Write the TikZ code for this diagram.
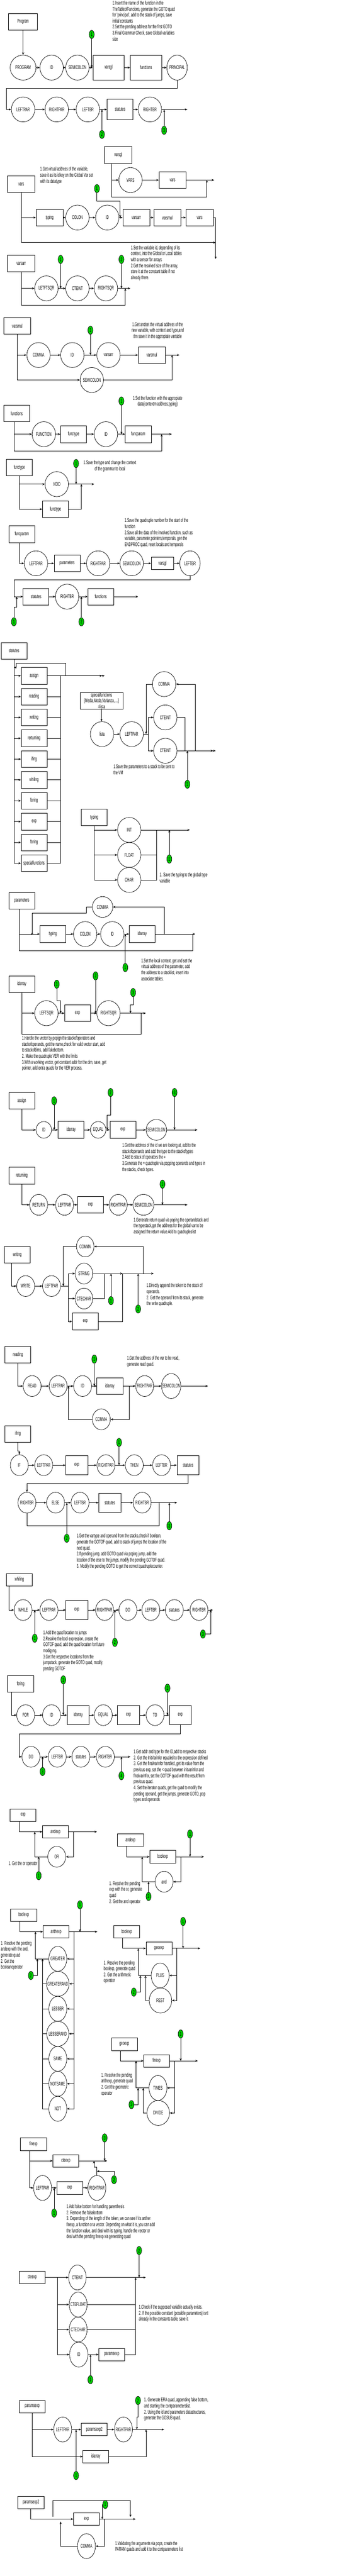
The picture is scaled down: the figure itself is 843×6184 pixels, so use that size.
\documentclass[tikz,border=0pt]{standalone}
\usepackage{fontspec}
\setmainfont{Liberation Sans}[FakeStretch=0.55]
\usetikzlibrary{arrows.meta, shapes.geometric, calc}
\definecolor{actgreen}{RGB}{0,204,0}

\begin{document}
\begin{tikzpicture}[
   x=1pt, y=-1pt,
   line width=0.9pt,
   >={Stealth[length=6pt,width=5pt]},
   font=\fontsize{13}{14.4}\selectfont,
   term/.style={draw, ellipse, minimum width=56pt, minimum height=60pt, inner xsep=-15pt, inner ysep=0pt},  % terminals
   sterm/.style={term, minimum width=43pt, minimum height=50pt},
   rule/.style={draw, rectangle, minimum width=62pt, minimum height=40pt, inner sep=0pt},            % non terminals
   srule/.style={rule, minimum height=30pt},
   wrule/.style={rule, minimum width=52.7pt, minimum height=45.3pt},
   act/.style={draw, ellipse, fill=actgreen, minimum width=12pt, minimum height=20pt, inner sep=0pt}, % semantic actions
   note/.style={anchor=north west, align=left, inner sep=0pt},
   cnote/.style={anchor=north, align=center, inner sep=0pt},
   dbl/.style={-{Stealth[length=6pt,width=5pt]Stealth[length=6pt,width=5pt]}}
]
\path[use as bounding box, fill=white] (0,0) rectangle (843,6184);

% ================= Program
\node[rule, minimum width=69pt] (prg_box) at (55.3,52.3) {Program};
\node[term, minimum width=62pt] (prg_program) at (55.3,162.3) {PROGRAM};
\node[term] (prg_id) at (123.7,162.3) {ID};
\node[term] (prg_semi) at (185.5,162.3) {SEMICOLON};
\node[rule, minimum width=75pt, minimum height=60pt] (prg_varsgl) at (260,162.3) {varsgl};
\node[rule, minimum width=75pt, minimum height=60pt] (prg_functions) at (349.8,162.3) {functions};
\node[term, minimum width=49pt] (prg_principal) at (424.3,162.3) {PRINCIPAL};
\node[term] (prg_leftpar) at (55.3,262.7) {LEFTPAR};
\node[term] (prg_rightpar) at (136,262.7) {RIGHTPAR};
\node[term] (prg_leftbr) at (210.5,262.7) {LEFTBR};
\node[rule, minimum height=50pt] (prg_statutes) at (287.8,262.7) {statutes};
\node[term] (prg_rightbr) at (359.2,262.7) {RIGHTBR};
\coordinate (prg_turn) at (15.3,212);
\coordinate (prg_end) at (449,262.7);
\node[act] (prg_a1) at (219.7,82.7) {1};
\node[act] (prg_a2) at (244.3,322.7) {2};
\node[act] (prg_a3) at (393.3,312.7) {3};

\draw[->] (prg_box) -- (prg_program);
\foreach \a/\b in {program/id, id/semi, semi/varsgl, varsgl/functions, functions/principal,
                   leftpar/rightpar, rightpar/leftbr, leftbr/statutes, statutes/rightbr}
   \draw[->] (prg_\a) -- (prg_\b);
\draw[->] (prg_principal.south) |- (prg_turn) |- (prg_leftpar);
\draw[->] (prg_rightbr) -- (prg_end);
\draw[->] (prg_a1) -- (prg_a1 |- prg_semi);
\draw[->] (prg_a2) -- (prg_a2 |- prg_leftbr);
\draw[->] (prg_a3) -- (prg_a3 |- prg_rightbr);

\node[note] (prg_note) at (269.3,1.7) {1.Insert the name of the function in the\\
TheTableofFuncions, generate the GOTO quad\\
for 'principal', add to the stack of jumps, save\\
initial constants\\
2.Set the pending address for the first GOTO\\
3.Final Grammar Check, save Global variables\\
size};

% ================= varsgl
\node[rule, minimum width=65pt] (vg_box) at (283.3,372.3) {varsgl};
\node[term] (vg_vars_t) at (312.7,432.3) {VARS};
\node[rule, minimum width=65pt] (vg_vars) at (413.5,432.3) {vars};
\coordinate (vg_split) at (267.3,432.3);
\coordinate (vg_low) at (267.3,472.3);
\coordinate (vg_join) at (495.7,432.3);
\coordinate (vg_end) at (513.3,432.3);
\draw[->] (vg_box.south -| vg_split) -- (vg_low) -| (vg_join);
\draw[->] (vg_split) -- (vg_vars_t);
\draw[->] (vg_vars_t) -- (vg_vars);
\draw[->] (vg_vars) -- (vg_end);

% ================= vars
\node[rule, minimum width=65pt] (vr_box) at (50.8,442.3) {vars};
\node[rule, minimum width=65pt] (vr_typing) at (119,522.3) {typing};
\node[term] (vr_colon) at (185.5,522.3) {COLON};
\node[term] (vr_id) at (257,522.3) {ID};
\node[rule, minimum width=65pt] (vr_varsarr) at (326.7,522.3) {varsarr};
\node[rule, minimum width=65pt] (vr_varsmul) at (401,522.3) {varsmul};
\node[rule, minimum width=65pt] (vr_vars) at (478.3,522.3) {vars};
\coordinate (vr_low) at (50.8,582.3);
\coordinate (vr_side) at (516.7,582.3);
\coordinate (vr_end) at (516.7,621.7);
\coordinate (vr_bend) at (288,482.3);
\node[act] (vr_a1) at (232.3,452.7) {1};
\draw (vr_box.south) -- (vr_low);
\draw[->] (vr_box.south |- vr_typing) -- (vr_typing);
\foreach \a/\b in {typing/colon, colon/id, id/varsarr, varsarr/varsmul, varsmul/vars}
   \draw[->] (vr_\a) -- (vr_\b);
\draw[->] (vr_vars) -| (vr_end);
\draw[->] (vr_low) -- (vr_side);
\draw[->] (vr_a1) |- (vr_bend) -- (vr_bend |- vr_id);
\node[note] (vr_note) at (96,400.7) {1.Get virtual address of the variable,\\
save it as its idkey on the Global Var set\\
with its datatype};

% ================= varsarr
\node[rule, minimum width=65pt] (va_box) at (50.8,632.3) {varsarr};
\node[term] (va_leftsqr) at (111.2,692.3) {LETFTSQR};
\node[term] (va_cteint) at (185.5,692.3) {CTEINT};
\node[term] (va_rightsqr) at (253.8,692.3) {RIGHTSQR};
\coordinate (va_low) at (50.8,732.3);
\coordinate (va_join) at (300.3,692.3);
\coordinate (va_end) at (312.3,692.3);
\node[act] (va_a1) at (145.3,622.7) {1};
\node[act] (va_a2) at (291,622.7) {2};
\draw[->] (va_box.south) -- (va_low) -| (va_join);
\draw[->] (va_box.south |- va_leftsqr) -- (va_leftsqr);
\draw[->] (va_leftsqr) -- (va_cteint);
\draw[->] (va_cteint) -- (va_rightsqr);
\draw[->] (va_rightsqr) -- (va_end);
\draw[->] (va_a1) -- (va_a1 |- va_leftsqr);
\draw[->] (va_a2) -- (va_a2 |- va_rightsqr);
\node[note] (va_note) at (313.3,589) {1.Set the variable id, depending of its\\
context, into the Global or Local tables\\
with a sensor for arrays\\
2.Get the resolved size of  the array,\\
store it at the constant table if not\\
already there.};

% ================= varsmul
\node[rule, minimum width=65pt] (vm_box) at (41.5,782.3) {varsmul};
\node[term] (vm_comma) at (92.3,852.3) {COMMA};
\node[term] (vm_id) at (173.3,852.3) {ID};
\node[term] (vm_varsarr) at (260,852.3) {varsarr};
\node[rule, minimum width=65pt] (vm_varsmul) at (363.8,852.3) {varsmul};
\node[term] (vm_semi) at (220,912.3) {SEMICOLON};
\coordinate (vm_low) at (41.5,912.3);
\coordinate (vm_join) at (412.3,852.3);
\coordinate (vm_end) at (430,852.3);
\node[act] (vm_a1) at (216.7,792.7) {1};
\draw (vm_box.south) -- (vm_low);
\draw[->] (vm_box.south |- vm_comma) -- (vm_comma);
\foreach \a/\b in {comma/id, id/varsarr, varsarr/varsmul}
   \draw[->] (vm_\a) -- (vm_\b);
\draw[->] (vm_varsmul) -- (vm_end);
\draw[->] (vm_low) -- (vm_semi);
\draw[->] (vm_semi) -| (vm_join);
\draw[->] (vm_a1) -- (vm_a1 |- vm_id);
\node[cnote] (vm_note) at (377.7,773.3) {1.Get andset the virtual address of the\\
new variable, with context and type,and\\
thn save it in the appropiate vartable};

% ================= functions
\node[rule] (fn_box) at (40,992.3) {functions};
\node[term] (fn_function) at (105,1042.3) {FUNCTION};
\node[rule] (fn_functype) at (176.3,1042.3) {functype};
\node[term] (fn_id) at (253.8,1042.3) {ID};
\node[rule] (fn_funcparam) at (331.3,1042.3) {funcparam};
\coordinate (fn_split) at (33.3,1042.3);
\coordinate (fn_low) at (33.3,1082.3);
\coordinate (fn_join) at (387.3,1042.3);
\coordinate (fn_end) at (411.7,1042.3);
\node[act] (fn_a1) at (291,962.7) {1};
\draw[->] (fn_box.south -| fn_split) -- (fn_low) -| (fn_join);
\draw[->] (fn_split) -- (fn_function);
\foreach \a/\b in {function/functype, functype/id, id/funcparam}
   \draw[->] (fn_\a) -- (fn_\b);
\draw[->] (fn_funcparam) -- (fn_end);
\draw[->] (fn_a1) -- (fn_a1 |- fn_id);
\node[cnote] (fn_note) at (377.7,950) {1.Set the function with the appropiate\\
data(contextm address,typing)};

% ================= functype
\node[rule] (ft_box) at (46.3,1122.3) {functype};
\node[term] (ft_void) at (136,1162.3) {VOID};
\node[rule] (ft_functype) at (133,1222.3) {functype};
\coordinate (ft_join) at (195,1162.3);
\coordinate (ft_end) at (225.7,1162.3);
\node[act] (ft_a1) at (182.3,1112.7) {1};
\draw[->] (ft_box.south) |- (ft_functype);
\draw[->] (ft_box.south |- ft_void) -- (ft_void);
\draw[->] (ft_void) -- (ft_end);
\draw[->] (ft_functype) -| (ft_join);
\draw[->] (ft_a1) -- (ft_a1 |- ft_void);
\node[cnote] (ft_note) at (263.3,1105) {1.Save the type and change the context\\
of the grammar to local};

% ================= funcparam
\node[rule] (fp_box) at (52.2,1282.3) {funcparam};
\node[term] (fp_leftpar) at (86.3,1352.3) {LEFTPAR};
\node[rule] (fp_parameters) at (160.8,1352.3) {parameters};
\node[term] (fp_rightpar) at (235.2,1352.3) {RIGHTPAR};
\node[term] (fp_semi) at (315.5,1352.3) {SEMICOLON};
\node[rule, minimum width=54pt, minimum height=30pt] (fp_varsgl) at (389.5,1352.3) {varsgl};
\node[term, minimum width=49pt] (fp_leftbr) at (455.3,1352.3) {LEFTBR};
\node[rule] (fp_statutes) at (86.3,1432.3) {statutes};
\node[term] (fp_rightbr) at (160.8,1432.3) {RIGHTBR};
\node[rule] (fp_functions) at (241.3,1432.3) {functions};
\coordinate (fp_split) at (46,1352.3);
\coordinate (fp_turn) at (33.3,1392.3);
\coordinate (fp_bend) at (40,1457.7);
\coordinate (fp_end) at (331,1432.3);
\node[act] (fp_a1) at (33.3,1492.7) {1};
\node[act] (fp_a2) at (195,1492.7) {2};
\draw[->] (fp_box.south -| fp_split) -- (fp_split) -- (fp_leftpar);
\foreach \a/\b in {leftpar/parameters, parameters/rightpar, rightpar/semi, semi/varsgl, varsgl/leftbr,
                   statutes/rightbr, rightbr/functions}
   \draw[->] (fp_\a) -- (fp_\b);
\draw[->] (fp_leftbr.south) |- (fp_turn) |- (fp_statutes);
\draw[->] (fp_functions) -- (fp_end);
\draw[->] (fp_a1) |- (fp_bend) -- (fp_bend |- fp_statutes);
\draw[->] (fp_a2) -- (fp_a2 |- fp_rightbr);
\node[note] (fp_note) at (298.3,1244) {1.Save the quadruple number for the start of the\\
function\\
2.Save all the data of  the involved function, such as\\
variable, parameter,pointers,temporals, gen the\\
ENDPROC quad, reset locals and temporals};

% ================= statutes
\node[rule] (st_box) at (33.5,1562.3) {statutes};
\foreach \stname [count=\i] in {assign, reading, writing, rerturning, ifing, whiling, foring, exp, foring, specialfunctions}
   \node[rule] (st_item\i) at (81.7,1572.3+50*\i) {\stname};
\coordinate (st_rr) at (145.3,1622.3);
\coordinate (st_back) at (157.3,1592.3);
\coordinate (st_back_l) at (39.3,1592.3);
\coordinate (st_back_in) at (39.3,1602.3);
\coordinate (st_end) at (250.7,1622.3);
\draw (st_box.south) -- (st_box.south |- st_item10);
\foreach \i in {1,...,10} {
   \draw[->] (st_box.south |- st_item\i) -- (st_item\i);
   \draw (st_item\i) -- (st_rr |- st_item\i);
}
\draw (st_rr) -- (st_rr |- st_item10);
\draw[->] (st_item1 -| st_back) -- (st_back) -- (st_back_l) -- (st_back_in) -- (st_back_in -| st_box);
\draw[dbl] (st_item1) -- (st_end);

% ================= specialfunctions
\node[rule, minimum width=102pt, align=center] (sf_box) at (243.2,1682.3) {specialfunctions\\\{Media,Moda,Varianza,....\}\\=lista};
\node[term] (sf_lista) at (244.5,1762.3) {lista};
\node[term] (sf_leftpar) at (315.5,1762.3) {LEFTPAR};
\node[term] (sf_comma) at (393.3,1642.3) {COMMA};
\node[term] (sf_cte1) at (396.2,1722.3) {CTEINT};
\node[term] (sf_cte2) at (396.2,1802.3) {CTEINT};
\coordinate (sf_fork) at (356,1762.3);
\coordinate (sf_back) at (350,1762.3);
\coordinate (sf_join) at (442.7,1802.3);
\coordinate (sf_loop) at (467.7,1802.3);
\coordinate (sf_end) at (516.7,1802.3);
\node[act] (sf_a1) at (449,1882.7) {1};
\draw[->] (sf_box.south) -- (sf_box.south |- sf_lista.north);
\draw[->] (sf_lista) -- (sf_leftpar);
\draw (sf_leftpar) -- (sf_fork);
\draw[->] (sf_fork) |- (sf_cte1);
\draw[->] (sf_fork) |- (sf_cte2);
\draw (sf_cte1) -| (sf_join);
\draw[dbl] (sf_cte2) -- (sf_end);
\draw[->] (sf_loop) |- (sf_comma);
\draw[->] (sf_comma) -| (sf_back);
\draw[->] (sf_a1) -- (sf_a1 |- sf_cte2);
\node[note] (sf_note) at (271.7,1835) {1.Save the parameters to a stack to be sent to\\
the VM};

% ================= typing
\node[rule] (ty_box) at (226,1962.3) {typing};
\node[term] (ty_int) at (309.7,1992.3) {INT};
\node[term] (ty_float) at (309.7,2052.3) {FLOAT};
\node[term] (ty_char) at (309.7,2112.3) {CHAR};
\coordinate (ty_join) at (374.7,1992.3);
\coordinate (ty_end) at (455,1992.3);
\node[act] (ty_a1) at (405.7,2062.3) {1};
\draw (ty_box.south) -- (ty_box.south |- ty_char);
\foreach \t in {int, float, char}
   \draw[->] (ty_box.south |- ty_\t) -- (ty_\t);
\draw[->] (ty_int) -- (ty_end);
\draw (ty_float) -| (ty_join);
\draw (ty_char) -| (ty_join);
\draw[->] (ty_a1) -- (ty_a1 |- ty_int);
\node[note] (ty_note) at (382.3,2095) {1. Save the typing to the global type\\
variable};

% ================= parameters
\node[rule] (pa_box) at (52.2,2162.3) {parameters};
\node[rule] (pa_typing) at (126.7,2242.3) {typing};
\node[term] (pa_colon) at (204.2,2242.3) {COLON};
\node[term] (pa_id) at (269,2242.3) {ID};
\node[rule] (pa_idarray) at (340.7,2242.3) {idarray};
\node[term, minimum width=49pt, minimum height=50pt] (pa_comma) at (245.8,2177.3) {COMMA};
\coordinate (pa_split) at (46,2242.3);
\coordinate (pa_low) at (46,2282.3);
\coordinate (pa_join) at (461.7,2242.3);
\coordinate (pa_end) at (467.7,2242.3);
\coordinate (pa_loop) at (393.3,2242.3);
\coordinate (pa_c1) at (207.3,2177.3);
\coordinate (pa_c2) at (77.3,2192.3);
\coordinate (pa_c3) at (80.3,2242.3);
\node[act] (pa_a1) at (300.3,2322.7) {1};
\draw (pa_box.south -| pa_split) -- (pa_low) -| (pa_join);
\draw[->] (pa_split) -- (pa_typing);
\foreach \a/\b in {typing/colon, colon/id, id/idarray}
   \draw[->] (pa_\a) -- (pa_\b);
\draw[->] (pa_idarray) -- (pa_end);
\draw[->] (pa_loop) |- (pa_comma);
\draw[->] (pa_comma) -- (pa_c1) |- (pa_c2) -- (pa_c2 |- pa_c3) -- (pa_c3);
\draw[->] (pa_a1) -- (pa_a1 |- pa_id);
\node[note] (pa_note) at (338.3,2300.7) {1.Set the local context, get and set the\\
virtual address of  the parameter, add\\
the address to a stacklist, insert into\\
associate tables.};

% ================= idarray
\node[rule] (ia_box) at (52.2,2362.3) {idarray};
\node[term] (ia_leftsqr) at (111.2,2432.3) {LEFTSQR};
\node[rule] (ia_exp) at (185.7,2432.3) {exp};
\node[term] (ia_rightsqr) at (260,2432.3) {RIGHTSQR};
\coordinate (ia_low) at (52.2,2482.3);
\coordinate (ia_join) at (337.7,2432.3);
\coordinate (ia_end) at (349.3,2432.3);
\coordinate (ia_b1) at (145.3,2402.3);
\coordinate (ia_b3) at (312.7,2412.3);
\node[act] (ia_a1) at (136,2362.7) {1};
\node[act] (ia_a2) at (229,2342.7) {2};
\node[act] (ia_a3) at (319,2382.7) {3};
\draw (ia_box.south) -- (ia_low) -| (ia_join);
\draw[->] (ia_box.south |- ia_leftsqr) -- (ia_leftsqr);
\draw[->] (ia_leftsqr) -- (ia_exp);
\draw[->] (ia_exp) -- (ia_rightsqr);
\draw[->] (ia_rightsqr) -- (ia_end);
\draw[->] (ia_a1) |- (ia_b1) -- (ia_b1 |- ia_leftsqr);
\draw[->] (ia_a2) -- (ia_a2 |- ia_exp);
\draw[->] (ia_a3) |- (ia_b3) -- (ia_b3 |- ia_rightsqr);
\node[note] (ia_note) at (52.3,2486.7) {1.Handle the vector by popign the stackofoperators and\\
stackofoperands, get the name,check for valid vector start, add\\
to stackofdims, add fakebottom.\\
2. Make the quadruple VER with the limits\\
3.With a working vector, get constant addr for the dim, save, get\\
pointer, add extra quads for the VER process.};

% ================= assign
\node[rule] (as_box) at (52.2,2642.3) {assign};
\node[term, minimum width=37pt, minimum height=40pt] (as_id) at (105,2712.3) {ID};
\node[rule] (as_idarray) at (170.3,2712.3) {idarray};
\node[term, minimum width=37pt, minimum height=40pt] (as_equal) at (235.3,2712.3) {EQUAL};
\node[rule] (as_exp) at (294.3,2712.3) {exp};
\node[term, minimum width=49pt, minimum height=50pt] (as_semi) at (374.7,2712.3) {SEMICOLON};
\coordinate (as_end) at (473.3,2712.3);
\coordinate (as_b2) at (257,2677.3);
\node[act] (as_a1) at (129.7,2642.7) {1};
\node[act] (as_a2) at (265,2622.7) {2};
\node[act] (as_a3) at (418.3,2622.7) {3};
\draw[->] (as_box.south) |- (as_id);
\foreach \a/\b in {id/idarray, idarray/equal, equal/exp, exp/semi}
   \draw[->] (as_\a) -- (as_\b);
\draw[->] (as_semi) -- (as_end);
\draw[->] (as_a1) -- (as_a1 |- as_id);
\draw[->] (as_a2) |- (as_b2) -- (as_b2 |- as_exp);
\draw[->] (as_a3) -- (as_a3 |- as_semi);
\node[note] (as_note) at (292.7,2744) {1.Get the address of the id we are looking at, add to the\\
stackofoperands and add the type to the stackoftypes\\
2.Add to stack of operators the =\\
3.Generate the = quadruple via popping operands and types in\\
the stacks, check types.};

% ================= returning
\node[rule] (rt_box) at (52.2,2822.3) {returning};
\node[sterm] (rt_return) at (92.7,2892.3) {RETURN};
\node[sterm] (rt_leftpar) at (154.7,2892.3) {LEFTPAR};
\node[rule] (rt_exp) at (216.7,2892.3) {exp};
\node[sterm] (rt_rightpar) at (283.3,2892.3) {RIGHTPAR};
\node[sterm, minimum width=50pt] (rt_semi) at (343.8,2892.3) {SEMICOLON};
\coordinate (rt_end) at (449,2892.3);
\node[act] (rt_a1) at (389.3,2842.7) {1};
\draw[->] (rt_box.south) |- (rt_return);
\foreach \a/\b in {return/leftpar, leftpar/exp, exp/rightpar, rightpar/semi}
   \draw[->] (rt_\a) -- (rt_\b);
\draw[->] (rt_semi) -- (rt_end);
\draw[->] (rt_a1) -- (rt_a1 |- rt_semi);
\node[note] (rt_note) at (320,2922.7) {1.Generate return quad via poping the operandstack and\\
the typestack,get the address for the global var to be\\
assigned the return value.Add to quadrupleslist};

% ================= writing
\node[rule] (wr_box) at (41.3,3012.3) {writing};
\node[sterm] (wr_write) at (61.5,3087.3) {WRITE};
\node[sterm] (wr_leftpar) at (123.5,3087.3) {LEFTPAR};
\node[sterm, minimum width=42pt] (wr_comma) at (204.3,2992.3) {COMMA};
\node[sterm, minimum width=42pt] (wr_string) at (201.2,3057.3) {STRING};
\node[sterm, minimum width=42pt] (wr_ctechar) at (201.2,3117.3) {CTECHAR};
\node[rule] (wr_exp) at (204.3,3172.3) {exp};
\coordinate (wr_split) at (27.7,3087.3);
\coordinate (wr_in) at (151.7,3087.3);
\coordinate (wr_fork) at (164,3087.3);
\coordinate (wr_j1) at (250.7,3057.3);
\coordinate (wr_j2) at (294,3057.3);
\coordinate (wr_loop) at (343.3,3057.3);
\coordinate (wr_end) at (368.3,3057.3);
\node[act] (wr_a1) at (266,3122.3) {1};
\node[act] (wr_a2) at (331,3142.3) {2};
\draw[->] (wr_box.south -| wr_split) -- (wr_split) -- (wr_write);
\draw[->] (wr_write) -- (wr_leftpar);
\draw (wr_leftpar) -- (wr_fork);
\draw[->] (wr_fork) |- (wr_string);
\draw[->] (wr_fork) |- (wr_ctechar);
\draw[->] (wr_fork) |- (wr_exp);
\draw[->] (wr_string) -- (wr_j2);
\draw[->] (wr_j2) -- (wr_end);
\draw (wr_ctechar) -| (wr_j1);
\draw (wr_exp) -| (wr_j2);
\draw[->] (wr_loop) |- (wr_comma);
\draw[->] (wr_comma) -| (wr_in);
\draw[->] (wr_a1) -- (wr_a1 |- wr_string);
\draw[->] (wr_a2) -- (wr_a2 |- wr_string);
\node[note] (wr_note) at (351,3080.7) {1.Directly  append the token to the stack of\\
operands.\\
2. Get the operand from its stack, generate\\
the write quadruple.};

% ================= reading
\node[rule] (rd_box) at (43,3252.3) {reading};
\node[sterm] (rd_read) at (77,3327.3) {READ};
\node[sterm] (rd_leftpar) at (139.2,3327.3) {LEFTPAR};
\node[sterm] (rd_id) at (198,3327.3) {ID};
\node[rule] (rd_idarray) at (263.3,3327.3) {idarray};
\node[sterm] (rd_rightpar) at (346.7,3327.3) {RIGHTPAR};
\node[term, minimum width=46pt] (rd_semi) at (410.2,3327.3) {SEMICOLON};
\node[sterm] (rd_comma) at (242.8,3407.3) {COMMA};
\coordinate (rd_loop) at (309.7,3327.3);
\coordinate (rd_back) at (164,3327.3);
\coordinate (rd_end) at (498.3,3327.3);
\node[act] (rd_a1) at (226,3262.7) {1};
\draw[->] (rd_box.south) |- (rd_read);
\foreach \a/\b in {read/leftpar, leftpar/id, id/idarray, idarray/rightpar, rightpar/semi}
   \draw[->] (rd_\a) -- (rd_\b);
\draw[->] (rd_semi) -- (rd_end);
\draw[->] (rd_loop) |- (rd_comma);
\draw[->] (rd_comma) -| (rd_back);
\draw[->] (rd_a1) -- (rd_a1 |- rd_id);
\node[note] (rd_note) at (304.3,3255) {1.Get the address of the var to be read,\\
generate read quad.};

% ================= ifing
\node[rule] (if_box) at (43,3442.3) {ifing};
\node[sterm] (if_if) at (46.3,3517.3) {IF};
\node[sterm] (if_leftpar) at (104.8,3517.3) {LEFTPAR};
\node[wrule] (if_exp) at (184,3517.3) {exp};
\node[sterm] (if_rightpar) at (253.8,3517.3) {RIGHTPAR};
\node[sterm] (if_then) at (321.8,3517.3) {THEN};
\node[sterm] (if_leftbr) at (387.2,3517.3) {LEFTBR};
\node[wrule] (if_statutes) at (450.7,3517.3) {statutes};
\node[sterm] (if_rightbr) at (64.5,3607.3) {RIGHTBR};
\node[sterm] (if_else) at (133.2,3607.3) {ELSE};
\node[sterm] (if_leftbr2) at (191.8,3607.3) {LEFTBR};
\node[wrule] (if_statutes2) at (263,3607.3) {statutes};
\node[sterm] (if_rightbr2) at (340.7,3607.3) {RIGHTBR};
\coordinate (if_bend) at (46.3,3483.3);
\coordinate (if_turn) at (64.5,3561);
\coordinate (if_low) at (381,3662.3);
\coordinate (if_end) at (424.3,3607.3);
\node[act] (if_a1) at (285.3,3462.7) {1};
\node[act] (if_a2) at (160,3692.7) {2};
\node[act] (if_a3) at (405.7,3662.7) {3};
\draw[->] (if_box.south) |- (if_bend) -- (if_if);
\foreach \a/\b in {if/leftpar, leftpar/exp, exp/rightpar, rightpar/then, then/leftbr, leftbr/statutes,
                   rightbr/else, else/leftbr2, leftbr2/statutes2, statutes2/rightbr2}
   \draw[->] (if_\a) -- (if_\b);
\draw[->] (if_statutes.south) |- (if_turn) -- (if_rightbr);
\draw (if_rightbr.south) |- (if_low) -- (if_low |- if_rightbr2);
\draw[->] (if_rightbr2) -- (if_end);
\draw[->] (if_a1) -- (if_a1 |- if_rightpar);
\draw[->] (if_a2) -- (if_a2 |- if_else);
\draw[->] (if_a3) -- (if_a3 |- if_rightbr2);
\node[note] (if_note) at (183.3,3681.7) {1.Get the vartype and operand from the stacks,check if  boolean,\\
generate the GOTOF quad, add to stack of jumps the location of the\\
next quad.\\
2.If  pending jump, add GOTO quad via poping jump, add the\\
location of the else to the jumps, modify the pending GOTOF quad.\\
3. Modify the pending GOTO to get the correct quadruplecounter.};

% ================= whiling
\node[srule] (wh_box) at (46.3,3792.3) {whiling};
\node[sterm] (wh_while) at (55.3,3865) {WHILE};
\node[sterm] (wh_leftpar) at (117.3,3865) {LEFTPAR};
\node[wrule] (wh_exp) at (184,3865) {exp};
\node[sterm] (wh_rightpar) at (250.7,3865) {RIGHTPAR};
\node[sterm] (wh_do) at (306.5,3865) {DO};
\node[sterm] (wh_leftbr) at (361.5,3865) {LEFTBR};
\node[sterm] (wh_statutes) at (417.8,3865) {statutes};
\node[sterm] (wh_rightbr) at (476.8,3865) {RIGHTBR};
\coordinate (wh_split) at (21.3,3865);
\coordinate (wh_end) at (510,3865);
\coordinate (wh_b3) at (505,3922.7);
\node[act] (wh_a1) at (83.3,3932.7) {1};
\node[act] (wh_a2) at (275.3,3942.7) {2};
\node[act] (wh_a3) at (486.3,3922.7) {3};
\draw[->] (wh_box.south -| wh_split) -- (wh_split) -- (wh_while);
\foreach \a/\b in {while/leftpar, leftpar/exp, exp/rightpar, rightpar/do, do/leftbr, leftbr/statutes, statutes/rightbr}
   \draw[->] (wh_\a) -- (wh_\b);
\draw[->] (wh_rightbr) -- (wh_end);
\draw[->] (wh_a1) -- (wh_a1 |- wh_while);
\draw[->] (wh_a2) -- (wh_a2 |- wh_rightpar);
\draw[->] (wh_a3) -- (wh_b3) -- (wh_b3 |- wh_rightbr);
\node[note] (wh_note) at (103.3,3914) {1.Add the quad location to jumps\\
2.Resolve the bool expression, create the\\
GOTOF quad, add the quad location for future\\
modigyng.\\
3.Get the respectve locations from the\\
jumpstack, generate the GOTO quad, modify\\
pending GOTOF};

% ================= foring
\node[rule] (fo_box) at (49.3,4042.3) {foring};
\node[sterm] (fo_for) at (61.5,4117.3) {FOR};
\node[sterm] (fo_id) at (123.5,4117.3) {ID};
\node[wrule] (fo_idarray) at (187.3,4117.3) {idarray};
\node[sterm] (fo_equal) at (247.5,4117.3) {EQUAL};
\node[wrule] (fo_exp) at (308,4117.3) {exp};
\node[sterm] (fo_to) at (371.5,4117.3) {TO};
\node[wrule] (fo_exp2) at (432,4117.3) {exp};
\node[sterm] (fo_do) at (74.2,4217.3) {DO};
\node[sterm] (fo_leftbr) at (137.2,4217.3) {LEFTBR};
\node[sterm] (fo_statutes) at (193.8,4217.3) {statutes};
\node[sterm] (fo_rightbr) at (252.5,4217.3) {RIGHTBR};
\coordinate (fo_split) at (27.7,4117.3);
\coordinate (fo_turn) at (46.3,4162.3);
\coordinate (fo_end) at (312.7,4217.3);
\node[act] (fo_a1) at (151.7,4032.7) {1};
\node[act] (fo_a2) at (401.3,4052.7) {2};
\node[act] (fo_a3) at (102,4252.7) {3};
\node[act] (fo_a4) at (291,4262.7) {4};
\draw[->] (fo_box.south -| fo_split) -- (fo_split) -- (fo_for);
\foreach \a/\b in {for/id, id/idarray, idarray/equal, equal/exp, exp/to, to/exp2,
                   do/leftbr, leftbr/statutes, statutes/rightbr}
   \draw[->] (fo_\a) -- (fo_\b);
\draw[->] (fo_exp2.south) |- (fo_turn) |- (fo_do);
\draw[->] (fo_rightbr) -- (fo_end);
\draw[->] (fo_a1) -- (fo_a1 |- fo_id);
\draw[->] (fo_a2) -- (fo_a2 |- fo_to);
\draw[->] (fo_a3) -- (fo_a3 |- fo_do);
\draw[->] (fo_a4) -- (fo_a4 |- fo_rightbr);
\node[note] (fo_note) at (320,4199.7) {1.Get addr and type for the ID,add to respective stacks\\
2. Get the InitVarinfor equaled to the expression defined\\
3. Get the finalvarinfor handled, get its value from the\\
previous exp, set the < quad between initvarinfor and\\
finalvarinfor, set the GOTOF quad with the result from\\
previous quad.\\
4. Set the iterator quads, get the quad to modify the\\
pending operand, get the jumps, generate GOTO, pop\\
types and operands};

% ================= exp
\node[srule] (ex_box) at (55.3,4357.3) {exp};
\node[srule] (ex_andexp) at (133,4397.3) {andexp};
\node[sterm] (ex_or) at (136,4457.3) {OR};
\coordinate (ex_split) at (46,4397.3);
\coordinate (ex_loop) at (176,4397.3);
\coordinate (ex_back) at (83.3,4397.3);
\coordinate (ex_end) at (232.3,4397.3);
\node[act] (ex_a1) at (92.7,4502.7) {1};
\draw[->] (ex_box.south -| ex_split) -- (ex_split) -- (ex_andexp);
\draw[->] (ex_andexp) -- (ex_end);
\draw[->] (ex_loop) |- (ex_or);
\draw[->] (ex_or) -| (ex_back);
\draw[->] (ex_a1) -- (ex_a1 |- ex_or);
\node[note] (ex_note) at (20,4467.7) {1. Get the or operator};

% ================= andexp
\node[srule] (an_box) at (312.7,4417.3) {andexp};
\node[srule] (an_boolexp) at (390,4457.3) {boolexp};
\node[sterm] (an_and) at (393.2,4517.3) {and};
\coordinate (an_split) at (303.3,4457.3);
\coordinate (an_loop) at (433.3,4457.3);
\coordinate (an_back) at (340.7,4457.3);
\coordinate (an_end) at (489,4457.3);
\node[act] (an_a1) at (455.3,4402.7) {1};
\node[act] (an_a2) at (356,4552.7) {2};
\draw[->] (an_box.south -| an_split) -- (an_split) -- (an_boolexp);
\draw[->] (an_boolexp) -- (an_end);
\draw[->] (an_loop) |- (an_and);
\draw[->] (an_and) -| (an_back);
\draw[->] (an_a1) -- (an_a1 |- an_boolexp);
\draw[->] (an_a2) -- (an_a2 |- an_and);
\node[note] (an_note) at (261.7,4515.7) {1. Resolve the pending\\
exp with the or, generate\\
quad\\
2. Get the and operator};

% ================= boolexp
\node[srule] (bo_box) at (56.7,4597.3) {boolexp};
\node[srule] (bo_arithexp) at (134.3,4637.3) {arithexp};
\foreach \op/\w [count=\i] in {GREATER/43, GREATERAND/54, LESSER/43, LESSERAND/53, SAME/43, NOTSAME/43, NOT/43}
   \node[term, minimum width=\w pt] (bo_op\i) at (138.5,4642.3+60*\i) {\op};
\coordinate (bo_split) at (47.3,4637.3);
\coordinate (bo_rail) at (177.7,4637.3);
\coordinate (bo_lrail) at (102,4702.3);
\coordinate (bo_up) at (85,4702.3);
\coordinate (bo_end) at (233.3,4637.3);
\coordinate (bo_b2) at (89.3,4742.3);
\node[act] (bo_a1) at (191.7,4572.7) {1};
\node[act] (bo_a2) at (74,4742.3) {2};
\draw[->] (bo_box.south -| bo_split) -- (bo_split) -- (bo_arithexp);
\draw[->] (bo_arithexp) -- (bo_end);
\draw (bo_rail) -- (bo_rail |- bo_op7);
\foreach \i in {1,...,7} {
   \draw[->] (bo_rail |- bo_op\i) -- (bo_op\i);
   \draw (bo_op\i) -- (bo_lrail |- bo_op\i);
}
\draw[->] (bo_lrail |- bo_op7) -- (bo_lrail);
\draw[->] (bo_lrail) -- (bo_up) -- (bo_up |- bo_arithexp);
\draw[->] (bo_a1) -- (bo_a1 |- bo_arithexp);
\draw[->] (bo_a2) -- (bo_b2) -- (bo_b2 |- bo_op1);
\node[note] (bo_note) at (1.7,4659.3) {1. Resolve the pending\\
andexp with the and,\\
generate quad\\
2. Get the\\
booleanoperator};

% ================= arithexp
\node[srule] (ar_box) at (303.5,4637.3) {boolexp};
\node[srule] (ar_geoexp) at (381,4677.3) {geoexp};
\node[term, minimum width=43pt] (ar_plus) at (383.8,4742.3) {PLUS};
\node[term, minimum width=54pt] (ar_rest) at (384.5,4802.3) {REST};
\coordinate (ar_split) at (294,4677.3);
\coordinate (ar_rail) at (424,4677.3);
\coordinate (ar_back) at (331.3,4742.3);
\coordinate (ar_back2) at (348.7,4802.3);
\coordinate (ar_end) at (480,4677.3);
\coordinate (ar_b2) at (336.3,4782.3);
\node[act] (ar_a1) at (438.7,4612.7) {1};
\node[act] (ar_a2) at (320.7,4782.3) {2};
\draw[->] (ar_box.south -| ar_split) -- (ar_split) -- (ar_geoexp);
\draw[->] (ar_geoexp) -- (ar_end);
\draw (ar_rail) -- (ar_rail |- ar_rest);
\draw[->] (ar_rail |- ar_plus) -- (ar_plus);
\draw[->] (ar_rail |- ar_rest) -- (ar_rest);
\draw[->] (ar_plus) -- (ar_back) -- (ar_back |- ar_geoexp);
\draw[->] (ar_rest) -- (ar_back2) -- (ar_back2 |- ar_plus);
\draw[->] (ar_a1) -- (ar_a1 |- ar_geoexp);
\draw[->] (ar_a2) -- (ar_b2) -- (ar_b2 |- ar_plus);
\node[note] (ar_note) at (248.3,4706) {1. Resolve the pending\\
boolexp, generate quad\\
2. Get the arithmetic\\
operator};

% ================= geoexp
\node[srule] (ge_box) at (298,4907.3) {geoexp};
\node[srule] (ge_finexp) at (375.3,4947.3) {finexp};
\node[term, minimum width=43pt] (ge_times) at (378.5,5012.3) {TIMES};
\node[term, minimum width=54pt] (ge_divide) at (379.2,5072.3) {DIVIDE};
\coordinate (ge_split) at (288.7,4947.3);
\coordinate (ge_rail) at (418.7,4947.3);
\coordinate (ge_back) at (326,5012.3);
\coordinate (ge_back2) at (343.3,5072.3);
\coordinate (ge_end) at (474,4947.3);
\coordinate (ge_b2) at (331,5052.3);
\node[act] (ge_a1) at (433,4882.7) {1};
\node[act] (ge_a2) at (315,5052.3) {2};
\draw[->] (ge_box.south -| ge_split) -- (ge_split) -- (ge_finexp);
\draw[->] (ge_finexp) -- (ge_end);
\draw (ge_rail) -- (ge_rail |- ge_divide);
\draw[->] (ge_rail |- ge_times) -- (ge_times);
\draw[->] (ge_rail |- ge_divide) -- (ge_divide);
\draw[->] (ge_times) -- (ge_back) -- (ge_back |- ge_finexp);
\draw[->] (ge_divide) -- (ge_back2) -- (ge_back2 |- ge_times);
\draw[->] (ge_a1) -- (ge_a1 |- ge_finexp);
\draw[->] (ge_a2) -- (ge_b2) -- (ge_b2 |- ge_times);
\node[note] (ge_note) at (242.3,4976) {1. Resolve the pending\\
arithexp, generate quad\\
2. Get the geometric\\
operator};

% ================= finexp
\node[srule] (fi_box) at (80.3,5147.3) {finexp};
\node[srule] (fi_cteexp) at (157.7,5187.3) {cteexp};
\node[term, minimum width=43pt] (fi_leftpar) at (102,5252.3) {LEFTPAR};
\node[srule] (fi_exp) at (167,5252.3) {exp};
\node[term, minimum width=43pt] (fi_rightpar) at (232.2,5252.3) {RIGHTPAR};
\coordinate (fi_split) at (71,5187.3);
\coordinate (fi_join) at (225.3,5187.3);
\coordinate (fi_bend) at (225.3,5202.3);
\coordinate (fi_end) at (256.7,5187.3);
\coordinate (fi_b2) at (273.3,5212.3);
\node[act] (fi_a1) at (129.7,5312.7) {1};
\node[act] (fi_a2) at (273.3,5232.7) {2};
\node[act] (fi_a3) at (250.7,5132.3) {3};
\draw (fi_box.south -| fi_split) -- (fi_split |- fi_leftpar);
\draw[->] (fi_split) -- (fi_cteexp);
\draw[->] (fi_split |- fi_leftpar) -- (fi_leftpar);
\draw[->] (fi_cteexp) -- (fi_end);
\draw[->] (fi_leftpar) -- (fi_exp);
\draw[->] (fi_exp) -- (fi_rightpar);
\draw[->] (fi_rightpar.north) |- (fi_bend) -- (fi_join);
\draw[->] (fi_a1) -- (fi_a1 |- fi_leftpar);
\draw[->] (fi_a2) -- (fi_b2) -- (fi_b2 -| fi_rightpar);
\draw[->] (fi_a3) -- (fi_a3 |- fi_cteexp);
\node[note] (fi_note) at (159.3,5291.7) {1.Add false bottom for handling parenthesis\\
2. Remove the falsebottom\\
3. Depending of the length of the token, we can see if its anther\\
finexp, a function or a vector. Depending on what it is, you can add\\
the function value, and deal with its typing, handle the vector or\\
deal with the pending finexp via generating quad};

% ================= cteexp
\node[srule] (ce_box) at (77.3,5467.3) {cteexp};
\node[term, minimum width=42pt] (ce_cteint) at (185.5,5467.3) {CTEINT};
\node[term, minimum width=43pt] (ce_ctefloat) at (187.3,5532.3) {CTEFLOAT};
\node[term, minimum width=43pt] (ce_ctechar) at (187.3,5592.3) {CTECHAR};
\node[term, minimum width=44pt] (ce_id) at (188.7,5652.3) {ID};
\node[srule] (ce_paramsexp) at (267.7,5652.3) {paramsexp};
\coordinate (ce_fork) at (137.3,5467.3);
\coordinate (ce_rail) at (325,5467.3);
\coordinate (ce_end) at (349.3,5467.3);
\node[act] (ce_a1) at (216.7,5712.7) {1};
\node[act] (ce_a2) at (333.3,5402.7) {2};
\draw (ce_box) -- (ce_fork) -- (ce_fork |- ce_id);
\foreach \t in {cteint, ctefloat, ctechar, id}
   \draw[->] (ce_fork |- ce_\t) -- (ce_\t);
\draw[->] (ce_cteint) -- (ce_end);
\draw[->] (ce_rail |- ce_id) -- (ce_rail);
\draw (ce_ctefloat) -- (ce_rail |- ce_ctefloat);
\draw (ce_ctechar) -- (ce_rail |- ce_ctechar);
\draw (ce_paramsexp) -- (ce_rail |- ce_paramsexp);
\draw[->] (ce_id) -- (ce_paramsexp);
\draw[->] (ce_a1) -- (ce_a1 |- ce_id);
\draw[->] (ce_a2) -- (ce_a2 |- ce_cteint);
\node[note] (ce_note) at (332.3,5532.7) {1.Check if  the supposed variable actually exists.\\
2. If the possible constant (possible parameters) isnt\\
already in the constants table, save it.};

% ================= paramsexp
\node[srule] (ps_box) at (77.3,5777.3) {paramsexp};
\node[term, minimum width=43pt] (ps_leftpar) at (150.3,5832.3) {LEFTPAR};
\node[srule] (ps_paramsexp2) at (226,5832.3) {paramsexp2};
\node[term, minimum width=43pt] (ps_rightpar) at (295.8,5832.3) {RIGHTPAR};
\node[srule] (ps_idarray) at (229.7,5897.3) {idarray};
\coordinate (ps_join) at (350,5832.3);
\coordinate (ps_end) at (393.3,5832.3);
\coordinate (ps_b2) at (328,5802.3);
\node[act] (ps_a1) at (182.3,5942.7) {1};
\node[act] (ps_a2) at (330.7,5762.7) {2};
\draw[->] (ps_box.south) |- (ps_idarray);
\draw[->] (ps_box.south |- ps_leftpar) -- (ps_leftpar);
\draw[->] (ps_leftpar) -- (ps_paramsexp2);
\draw[->] (ps_paramsexp2) -- (ps_rightpar);
\draw[->] (ps_rightpar) -- (ps_end);
\draw[->] (ps_idarray) -| (ps_join);
\draw[->] (ps_a1) -- (ps_a1 |- ps_leftpar);
\draw[->] (ps_a2) |- (ps_b2) -- (ps_b2 |- ps_rightpar);
\node[note] (ps_note) at (345,5756) {1. Generate ERA quad, appending false bottom,\\
and starting the contparameterslist.\\
2. Using the id and parameters datastructures,\\
generate the GOSUB quad.};

% ================= paramsexp2
\node[srule] (p2_box) at (74,6007.3) {paramsexp2};
\node[srule] (p2_exp) at (207.3,6047.3) {exp};
\node[term, minimum width=43pt] (p2_comma) at (207.2,6112.3) {COMMA};
\coordinate (p2_skip) at (126.7,6042.3);
\coordinate (p2_top) at (126.7,6002.3);
\coordinate (p2_topr) at (312.7,6002.3);
\coordinate (p2_skipend) at (312.7,6042.3);
\coordinate (p2_loop) at (250.7,6047.3);
\coordinate (p2_back) at (145.3,6053.3);
\coordinate (p2_end) at (325,6047.3);
\coordinate (p2_b1) at (245,6012.3);
\node[act] (p2_a1) at (252.3,6012.3) {1};
\draw[->] (p2_box.south) |- (p2_exp);
\draw[->] (p2_exp) -- (p2_end);
\draw[->] (p2_skip) -- (p2_top) -- (p2_topr) -- (p2_skipend);
\draw[->] (p2_loop) |- (p2_comma);
\draw[->] (p2_comma) -| (p2_back);
\draw[->] (p2_a1) -- (p2_b1) -- (p2_b1 |- p2_exp);
\node[note] (p2_note) at (275.7,6100) {1.Validating the arguments via pops, create the\\
PARAM quads and add it to the contparameters list};

\end{tikzpicture}
\end{document}
